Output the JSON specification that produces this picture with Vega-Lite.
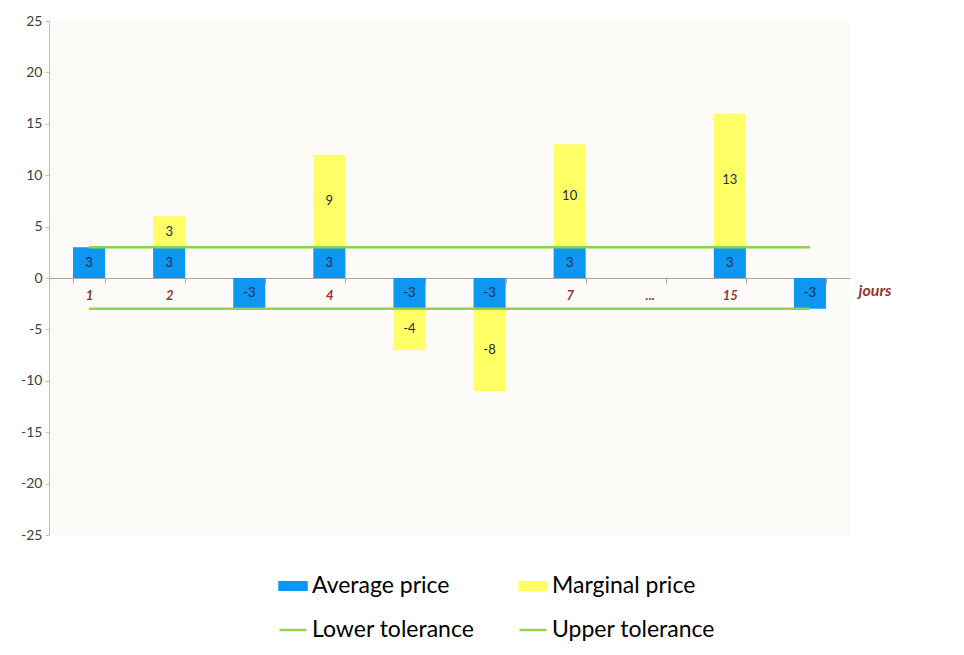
{
  "$schema": "https://vega.github.io/schema/vega-lite/v6.json",
  "width": 801,
  "height": 514,
  "autosize": {"type": "none"},
  "padding": {"left": 49, "top": 21, "right": 114, "bottom": 120},
  "background": "white",
  "config": {"view": {"fill": "#FDFBF8", "stroke": null}, "font": "Lato"},
  "data": {
    "values": [
      {"day": "1", "series": "Average price", "value": 3},
      {"day": "2", "series": "Average price", "value": 3},
      {"day": "3", "series": "Average price", "value": -3},
      {"day": "4", "series": "Average price", "value": 3},
      {"day": "5", "series": "Average price", "value": -3},
      {"day": "6", "series": "Average price", "value": -3},
      {"day": "7", "series": "Average price", "value": 3},
      {"day": "15", "series": "Average price", "value": 3},
      {"day": "16", "series": "Average price", "value": -3},
      {"day": "2", "series": "Marginal price", "value": 3},
      {"day": "4", "series": "Marginal price", "value": 9},
      {"day": "5", "series": "Marginal price", "value": -4},
      {"day": "6", "series": "Marginal price", "value": -8},
      {"day": "7", "series": "Marginal price", "value": 10},
      {"day": "15", "series": "Marginal price", "value": 13},
      {"day": "1", "series": "Lower tolerance", "value": -3},
      {"day": "2", "series": "Lower tolerance", "value": -3},
      {"day": "3", "series": "Lower tolerance", "value": -3},
      {"day": "4", "series": "Lower tolerance", "value": -3},
      {"day": "5", "series": "Lower tolerance", "value": -3},
      {"day": "6", "series": "Lower tolerance", "value": -3},
      {"day": "7", "series": "Lower tolerance", "value": -3},
      {"day": "...", "series": "Lower tolerance", "value": -3},
      {"day": "15", "series": "Lower tolerance", "value": -3},
      {"day": "16", "series": "Lower tolerance", "value": -3},
      {"day": "1", "series": "Upper tolerance", "value": 3},
      {"day": "2", "series": "Upper tolerance", "value": 3},
      {"day": "3", "series": "Upper tolerance", "value": 3},
      {"day": "4", "series": "Upper tolerance", "value": 3},
      {"day": "5", "series": "Upper tolerance", "value": 3},
      {"day": "6", "series": "Upper tolerance", "value": 3},
      {"day": "7", "series": "Upper tolerance", "value": 3},
      {"day": "...", "series": "Upper tolerance", "value": 3},
      {"day": "15", "series": "Upper tolerance", "value": 3},
      {"day": "16", "series": "Upper tolerance", "value": 3}
    ]
  },
  "layer": [
    {
      "transform": [
        {"filter": "datum.series === 'Average price' || datum.series === 'Marginal price'"},
        {"stack": "value", "groupby": ["day"], "sort": [{"field": "series", "order": "ascending"}], "as": ["v0", "v1"], "offset": "zero"},
        {"calculate": "(datum.v0 + datum.v1) / 2", "as": "mid"}
      ],
      "layer": [
        {
          "mark": {"type": "bar"},
          "encoding": {
            "x": {
              "field": "day", "type": "nominal",
              "sort": ["1", "2", "3", "4", "5", "6", "7", "...", "15", "16"],
              "scale": {"domain": ["1", "2", "3", "4", "5", "6", "7", "...", "15", "16"], "paddingInner": 0.6, "paddingOuter": 0.3},
              "axis": {
                "orient": "bottom", "offset": -257, "grid": false,
                "labelAngle": 0, "labelFontStyle": "italic", "labelFontWeight": "bold", "labelColor": "#943634", "labelFontSize": 13, "labelFont": "Lato",
                "tickBand": "extent", "tickSize": 5, "labelPadding": 6,
                "domainColor": "#A6A6A6", "tickColor": "#A6A6A6",
                "title": "jours", "titleX": 809, "titleY": 12, "titleAlign": "left", "titleBaseline": "middle", "titleAngle": 0,
                "titleFontStyle": "italic", "titleFontWeight": "bold", "titleColor": "#943634", "titleFontSize": 16, "titleFont": "Lato"
              }
            },
            "y": {
              "field": "v0", "type": "quantitative",
              "scale": {"domain": [-25, 25], "nice": false},
              "axis": {
                "values": [-25, -20, -15, -10, -5, 0, 5, 10, 15, 20, 25], "grid": false, "title": null,
                "labelExpr": "replace(datum.label, '\u2212', '-')",
                "labelFontSize": 14, "labelColor": "#404040", "labelFont": "Lato",
                "domainColor": "#BFBFBF", "tickColor": "#BFBFBF", "tickSize": 4, "labelPadding": 3
              }
            },
            "y2": {"field": "v1"},
            "color": {
              "field": "series", "type": "nominal",
              "scale": {"domain": ["Average price", "Marginal price", "Lower tolerance", "Upper tolerance"], "range": ["#0D96F2", "#FFFF66", "#92D050", "#92D050"]},
              "legend": {
                "orient": "none", "legendX": 229, "legendY": 550, "columns": 2, "columnPadding": 39, "rowPadding": 17,
                "values": ["Average price", "Lower tolerance", "Marginal price", "Upper tolerance"],
                "labelFontSize": 23, "labelColor": "#000000", "labelFont": "Lato", "labelLimit": 400, "title": null,
                "symbolSize": 729, "labelOffset": 4, "padding": 0,
                "encode": {
                  "symbols": {
                    "update": {
                      "shape": [{"test": "datum.value === 'Lower tolerance' || datum.value === 'Upper tolerance'", "value": "M-1,0H1"}, {"value": "M-1,-0.27H1V0.27H-1Z"}],
                      "fill": [{"test": "datum.value === 'Lower tolerance' || datum.value === 'Upper tolerance'", "value": "transparent"}, {"scale": "color", "field": "value"}],
                      "stroke": [{"test": "datum.value === 'Lower tolerance' || datum.value === 'Upper tolerance'", "scale": "color", "field": "value"}, {"value": "transparent"}],
                      "strokeWidth": {"value": 2.5},
                      "opacity": {"value": 1}
                    }
                  }
                }
              }
            }
          }
        },
        {
          "mark": {"type": "text", "fontSize": 13, "color": "#1f2a44", "align": "center", "baseline": "middle", "font": "Lato"},
          "encoding": {
            "x": {"field": "day", "type": "nominal", "sort": ["1", "2", "3", "4", "5", "6", "7", "...", "15", "16"]},
            "y": {"field": "mid", "type": "quantitative"},
            "text": {"field": "value", "type": "nominal"}
          }
        }
      ]
    },
    {
      "transform": [{"filter": "datum.series === 'Lower tolerance' || datum.series === 'Upper tolerance'"}],
      "mark": {"type": "line", "strokeWidth": 2.5},
      "encoding": {
        "x": {"field": "day", "type": "nominal", "sort": ["1", "2", "3", "4", "5", "6", "7", "...", "15", "16"]},
        "y": {"field": "value", "type": "quantitative"},
        "color": {"field": "series", "type": "nominal", "scale": {"domain": ["Average price", "Marginal price", "Lower tolerance", "Upper tolerance"], "range": ["#0D96F2", "#FFFF66", "#92D050", "#92D050"]}}
      }
    }
  ]
}
